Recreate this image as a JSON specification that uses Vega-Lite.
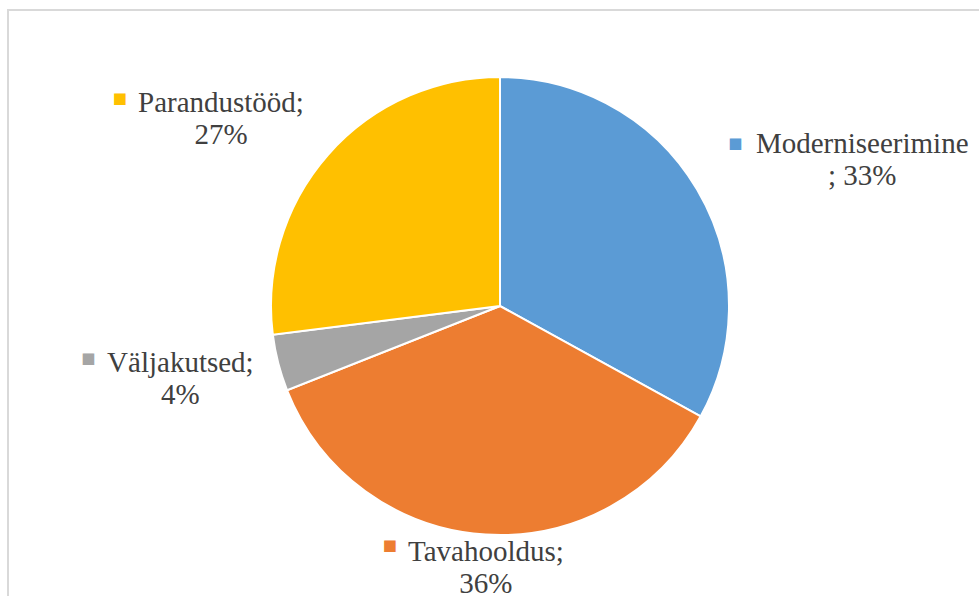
{
  "$schema": "https://vega.github.io/schema/vega-lite/v6.json",
  "width": 984,
  "height": 592,
  "autosize": {"type": "none"},
  "padding": {"left": 8, "top": 10, "right": 0, "bottom": 0},
  "background": "white",
  "config": {"view": {"stroke": null}},
  "data": {"values": [
    {"i": 1, "cat": "Moderniseerimine", "value": 33, "label": "Moderniseerimine\n; 33%"},
    {"i": 2, "cat": "Tavahooldus", "value": 36, "label": "Tavahooldus;\n36%"},
    {"i": 3, "cat": "Väljakutsed", "value": 4, "label": "Väljakutsed;\n4%"},
    {"i": 4, "cat": "Parandustööd", "value": 27, "label": "Parandustööd;\n27%"}
  ]},
  "layer": [
    {
      "data": {"values": [{"frame": 1}]},
      "mark": {"type": "rect", "fill": "transparent", "stroke": "#d9d9d9", "strokeWidth": 2},
      "encoding": {}
    },
    {
      "encoding": {
        "theta": {"field": "value", "type": "quantitative", "stack": true},
        "order": {"field": "i", "type": "quantitative"}
      },
      "layer": [
        {
          "mark": {"type": "arc", "outerRadius": 229, "stroke": "white", "strokeWidth": 2},
          "encoding": {
            "color": {"field": "cat", "type": "nominal", "legend": null,
              "scale": {"domain": ["Moderniseerimine", "Tavahooldus", "Väljakutsed", "Parandustööd"],
                        "range": ["#5B9BD5", "#ED7D31", "#A5A5A5", "#FFC000"]}}
          }
        },
        {
          "mark": {"type": "text", "radius": 300, "dx": 104, "dy": 0, "align": "center", "baseline": "alphabetic", "font": "Liberation Serif", "fontSize": 29, "lineHeight": 32, "lineBreak": "\n", "color": "#404040"},
          "encoding": {"text": {"condition": {"test": "datum.cat === 'Moderniseerimine'", "field": "label"}, "value": ""}}
        },
        {
          "mark": {"type": "text", "radius": 256, "dx": 2, "dy": 0, "align": "center", "baseline": "alphabetic", "font": "Liberation Serif", "fontSize": 29, "lineHeight": 32, "lineBreak": "\n", "color": "#404040"},
          "encoding": {"text": {"condition": {"test": "datum.cat === 'Tavahooldus'", "field": "label"}, "value": ""}}
        },
        {
          "mark": {"type": "text", "radius": 330, "dx": 0, "dy": -16, "align": "center", "baseline": "alphabetic", "font": "Liberation Serif", "fontSize": 29, "lineHeight": 32, "lineBreak": "\n", "color": "#404040"},
          "encoding": {"text": {"condition": {"test": "datum.cat === 'Väljakutsed'", "field": "label"}, "value": ""}}
        },
        {
          "mark": {"type": "text", "radius": 300, "dx": -54, "dy": 4, "align": "center", "baseline": "alphabetic", "font": "Liberation Serif", "fontSize": 29, "lineHeight": 32, "lineBreak": "\n", "color": "#404040"},
          "encoding": {"text": {"condition": {"test": "datum.cat === 'Parandustööd'", "field": "label"}, "value": ""}}
        },
        {
          "mark": {"type": "text", "radius": 300, "dx": -23, "dy": -10, "align": "center", "baseline": "middle", "font": "DejaVu Sans", "fontSize": 15, "color": "#5B9BD5"},
          "encoding": {"text": {"condition": {"test": "datum.cat === 'Moderniseerimine'", "value": "■"}, "value": ""}}
        },
        {
          "mark": {"type": "text", "radius": 256, "dx": -94, "dy": -16, "align": "center", "baseline": "middle", "font": "DejaVu Sans", "fontSize": 15, "color": "#ED7D31"},
          "encoding": {"text": {"condition": {"test": "datum.cat === 'Tavahooldus'", "value": "■"}, "value": ""}}
        },
        {
          "mark": {"type": "text", "radius": 330, "dx": -92, "dy": -30, "align": "center", "baseline": "middle", "font": "DejaVu Sans", "fontSize": 15, "color": "#A5A5A5"},
          "encoding": {"text": {"condition": {"test": "datum.cat === 'Väljakutsed'", "value": "■"}, "value": ""}}
        },
        {
          "mark": {"type": "text", "radius": 300, "dx": -155, "dy": -10, "align": "center", "baseline": "middle", "font": "DejaVu Sans", "fontSize": 15, "color": "#FFC000"},
          "encoding": {"text": {"condition": {"test": "datum.cat === 'Parandustööd'", "value": "■"}, "value": ""}}
        }
      ]
    }
  ]
}
